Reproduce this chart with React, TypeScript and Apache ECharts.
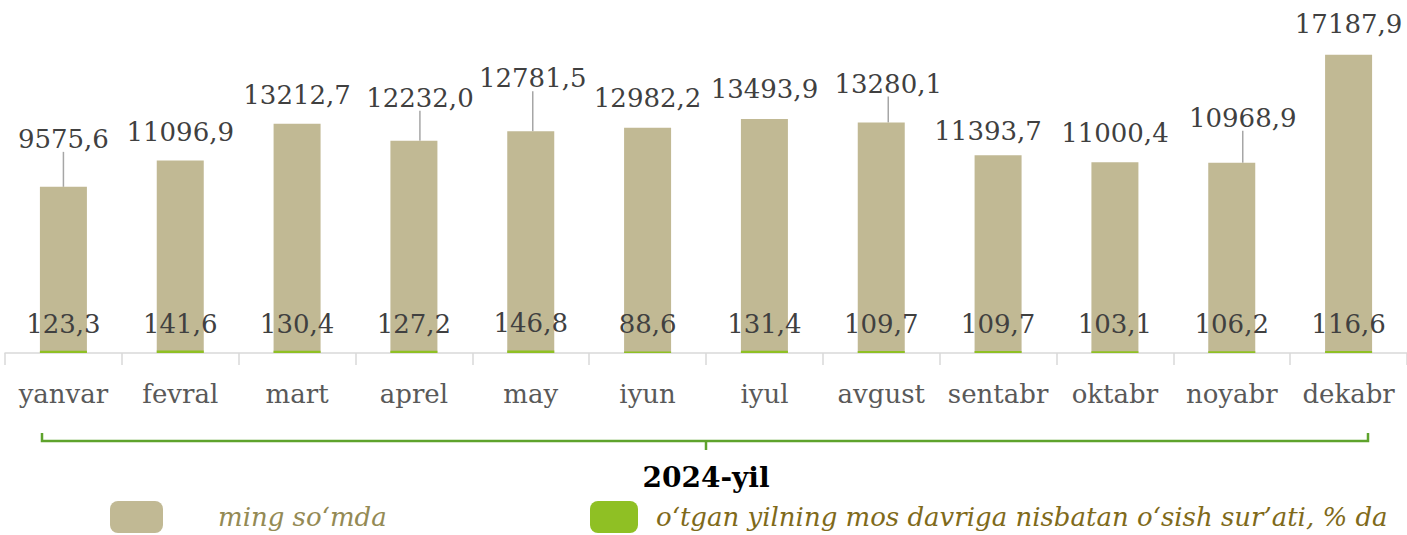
import React, { useEffect, useRef } from "react";
import * as echarts from "echarts";

const months = ["yanvar", "fevral", "mart", "aprel", "may", "iyun", "iyul", "avgust", "sentabr", "oktabr", "noyabr", "dekabr"];
const amounts = [9575.6, 11096.9, 13212.7, 12232.0, 12781.5, 12982.2, 13493.9, 13280.1, 11393.7, 11000.4, 10968.9, 17187.9];
const growth = [123.3, 141.6, 130.4, 127.2, 146.8, 88.6, 131.4, 109.7, 109.7, 103.1, 106.2, 116.6];
const seriesNames = ["ming so\u2018mda", "o\u2018tgan yilning mos davriga nisbatan o\u2018sish sur\u2019ati, % da"];
const periodLabel = "2024-yil";

// label placement (layout only)
const labelShift: [number, number][] = [
  [0, -30], [0, -10], [0, -11], [6, -25], [2, -35], [0, -12],
  [0, -12], [7, -21], [-10, -6], [0, -11], [11, -27], [0, -13],
];
const withLeader = [true, false, false, true, true, false, false, true, false, false, true, false];

const fmt = (v: number) => v.toFixed(1).replace(".", ",");
const SERIF = "'DejaVu Serif', serif";

export default function App() {
  const ref = useRef<HTMLDivElement>(null);
  useEffect(() => {
    document.body.style.margin = "0";
    const chart = echarts.init(ref.current!, null, { renderer: "svg" });
    chart.setOption({
      animation: false,
      backgroundColor: "#ffffff",
      grid: { left: 5, right: 0, top: 6, bottom: 182 },
      xAxis: {
        type: "category",
        data: months,
        axisLine: { lineStyle: { color: "#d9d9d9", width: 1.5 } },
        axisTick: { show: true, length: 12, lineStyle: { color: "#d9d9d9", width: 1.5 } },
        axisLabel: { color: "#595959", fontSize: 26, fontFamily: SERIF, margin: 28, interval: 0 },
      },
      yAxis: { type: "value", min: 0, max: 20000, show: false, splitLine: { show: false } },
      legend: [
        {
          left: 105, top: 496, itemWidth: 53, itemHeight: 32, icon: "roundRect",
          data: [{ name: seriesNames[0], textStyle: { color: "#948a54" } }],
          textStyle: { fontSize: 26, fontFamily: SERIF, fontStyle: "italic", padding: [0, 0, 0, 50] },
        },
        {
          left: 585, top: 496, itemWidth: 48, itemHeight: 32, icon: "roundRect",
          data: [{ name: seriesNames[1], textStyle: { color: "#7f6a1a" } }],
          textStyle: { fontSize: 26, fontFamily: SERIF, fontStyle: "italic", padding: [0, 0, 0, 13] },
        },
      ],
      series: [
        {
          name: seriesNames[0],
          type: "bar",
          barWidth: 47,
          itemStyle: { color: "#c1b994" },
          data: amounts.map((v, i) => ({
            value: v,
            labelLine: { show: withLeader[i] },
          })),
          label: {
            show: true,
            position: "top",
            distance: 5,
            color: "#404040",
            fontSize: 26,
            fontFamily: SERIF,
            formatter: (p: any) => fmt(p.value),
          },
          labelLayout: (p: any) => ({ dx: labelShift[p.dataIndex][0], dy: labelShift[p.dataIndex][1] }),
          labelLine: { show: false, lineStyle: { color: "#a6a6a6", width: 1.5 } },
          z: 2,
        },
        {
          name: seriesNames[1],
          type: "bar",
          barWidth: 47,
          barGap: "-100%",
          itemStyle: { color: "#8fc024" },
          data: growth,
          label: {
            show: true,
            position: "top",
            distance: 14,
            color: "#404040",
            fontSize: 26,
            fontFamily: SERIF,
            formatter: (p: any) => fmt(p.value),
          },
          z: 3,
        },
      ],
      graphic: [
        {
          type: "polyline",
          shape: { points: [[42, 433], [42, 441], [1368, 441], [1368, 433]] },
          style: { stroke: "#5ea32c", lineWidth: 2.5, fill: "none" },
        },
        {
          type: "line",
          shape: { x1: 706, y1: 441, x2: 706, y2: 450 },
          style: { stroke: "#5ea32c", lineWidth: 2.5 },
        },
        {
          type: "text",
          x: 706,
          y: 477,
          style: {
            text: periodLabel,
            fill: "#000000",
            font: "bold 28px 'DejaVu Serif', serif",
            align: "center",
            verticalAlign: "middle",
          },
        },
      ],
    });
    return () => chart.dispose();
  }, []);
  return <div ref={ref} style={{ width: 1407, height: 535 }} />;
}
